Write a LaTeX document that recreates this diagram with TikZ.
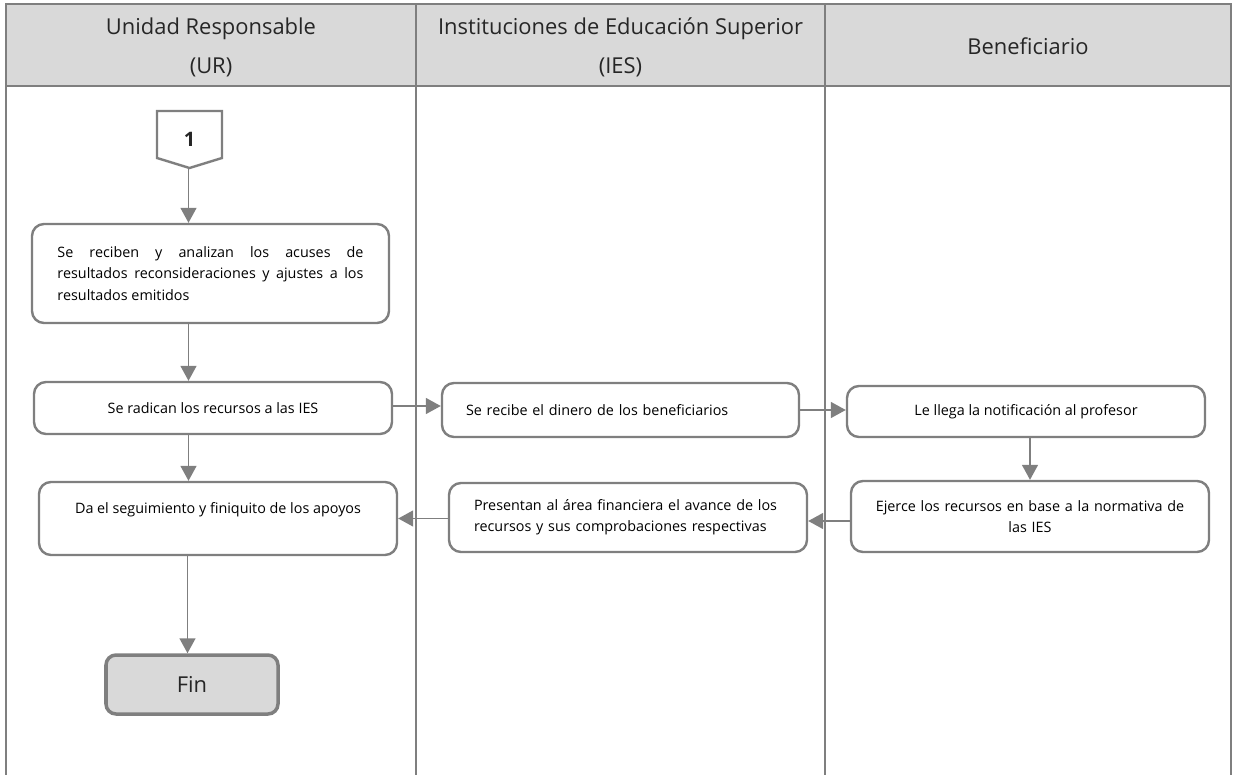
\documentclass[tikz,border=0pt]{standalone}
\usepackage{fontspec}
\setmainfont{Open Sans}
\usetikzlibrary{arrows.meta,calc}
\definecolor{lg}{HTML}{7F7F7F}
\definecolor{hd}{HTML}{D9D9D9}
\definecolor{tx}{HTML}{262626}
\begin{document}
\begin{tikzpicture}[x=1bp,y=-1bp,
  box/.style={draw=lg, line width=2.4bp, rounded corners=12bp, fill=white, inner sep=0pt,
    font=\fontsize{14.4}{21.5}\selectfont, text=black},
  conn/.style={draw=lg, line width=1.5bp, -{Triangle[length=15bp,width=16bp]}},
  lane/.style={draw=lg, line width=2bp},
  hdr/.style={font=\fontsize{22}{39}\selectfont, text=tx, align=center}]
\useasboundingbox (0,0) rectangle (1233,775);
% swimlanes
\fill[hd] (6,4) rectangle (1231,86);
\draw[lane] (6,775) -- (6,4) -- (1231,4) -- (1231,775);
\draw[lane] (6,86) -- (1231,86);
\draw[lane] (416,4) -- (416,775);
\draw[lane] (825,4) -- (825,775);
\node[hdr] (h1) at (211,47.5) {Unidad Responsable\\(UR)};
\node[hdr] (h2) at (620.5,47.5) {Instituciones de Educación Superior\\(IES)};
\node[hdr] (h3) at (1028,46) {Beneficiario};
% off-page connector
\draw[draw=lg, line width=2.4bp, fill=white] (157,111) -- (222,111) -- (222,158) -- (189.5,168) -- (157,158) -- cycle;
\node[inner sep=0pt, font=\fontsize{20}{20}\selectfont\bfseries, text=tx] (c1) at (189.5,139) {1};
\coordinate (c1tip) at (188.5,168);
% boxes
\node[box, minimum width=357bp, minimum height=99bp, text width=306bp, align=justify] (b1) at (210.5,273.5)
  {Se reciben y analizan los acuses de\linebreak resultados reconsideraciones y ajustes a los\linebreak resultados emitidos};
\node[box, minimum width=358bp, minimum height=52bp, align=center] (b2) at (213,408) {Se radican los recursos a las IES};
\node[box, minimum width=358bp, minimum height=73bp, align=center] (b5) at (218,518.5) {Da el seguimiento y finiquito de los apoyos\\\mbox{}};
\node[box, minimum width=357bp, minimum height=54bp, text width=309bp, align=left] (b3) at (620.5,410) {Se recibe el dinero de los beneficiarios};
\node[box, minimum width=358bp, minimum height=51bp, align=center] (b4) at (1026,411.5) {Le llega la notificación al profesor};
\node[box, minimum width=358bp, minimum height=69bp, text width=308bp, align=left] (b6) at (628,517.5)
  {Presentan al área financiera el avance de los\\recursos y sus comprobaciones respectivas};
\node[box, minimum width=358bp, minimum height=71bp, text width=320bp, align=center] (b7) at (1030,516.5)
  {Ejerce los recursos en base a la normativa de\\las IES};
\node[draw=lg, line width=3.5bp, rounded corners=10bp, fill=hd, minimum width=172bp, minimum height=59bp,
  inner sep=0pt, font=\fontsize{22}{22}\selectfont, text=tx] (fin) at (192,684.5) {Fin};
% connectors
\draw[conn] (c1tip) -- (c1tip |- b1.north);
\draw[conn] (c1tip |- b1.south) -- (c1tip |- b2.north);
\draw[conn] (c1tip |- b2.south) -- (c1tip |- b5.north);
\draw[conn] ([xshift=-1bp]c1tip |- b5.south) -- ([xshift=-1bp]c1tip |- fin.north);
\draw[conn] ([yshift=2bp]b2.east) -- ([yshift=2bp]b2.east -| b3.west);
\draw[conn] (b3.east) -- (b3.east -| b4.west);
\draw[conn] (b7.north |- b4.south) -- (b7.north);
\draw[conn] ([yshift=-4.5bp]b7.west) -- ([yshift=-4.5bp]b7.west -| b6.east);
\draw[conn] (b6.west |- b5.east) -- (b5.east);
\end{tikzpicture}
\end{document}
